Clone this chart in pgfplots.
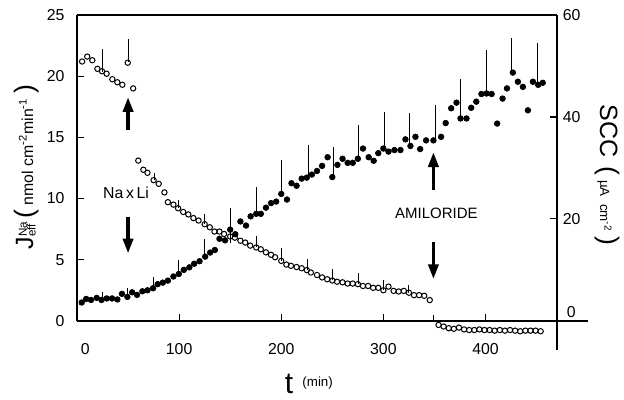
\documentclass[border=0pt]{standalone}
\usepackage{pgfplots}
\pgfplotsset{compat=1.18}
\usepackage{fontspec}
\setmainfont{Liberation Sans}
\usetikzlibrary{arrows.meta}

\pgfplotsset{
  common/.style={
    at={(46.2pt,37.2pt)}, anchor=south west,
    width=288pt, height=193.8pt, scale only axis,
    xmin=0, xmax=470,
    tick align=inside,
    major tick length=4.2pt,
    tick style={line width=0.7pt, black},
    ticklabel style={font=\fontsize{9.5}{10}\selectfont},
    /pgf/number format/assume math mode=true,
    every inner x axis line/.append style={-},
    every outer x axis line/.append style={-},
    every inner y axis line/.append style={-},
    every outer y axis line/.append style={-},
    axis line style={line width=0.8pt},
    clip=false,
  },
}
\tikzset{arr/.style={line width=2.2pt, -{Triangle[length=9pt, width=6pt]}}}

\begin{document}
\begin{tikzpicture}
\path[use as bounding box] (0,0) rectangle (374.4pt,240pt);

% left axis: J_eff (open circles)
\begin{axis}[
  common,
  ymin=-1.4, ymax=25,
  axis x line*=middle, axis y line*=left,
  x axis line style={shorten >=-18.6pt},
  y axis line style={shorten <=10pt},
  xtick={100,200,300,400},
  extra x ticks={8}, extra x tick labels={0},
  extra x tick style={major tick length=0pt},
  ytick={0,5,10,15,20,25},
  xticklabel style={yshift=-10pt},
  yticklabel style={xshift=-4pt},
  xlabel={{\fontsize{18}{18}\selectfont t}\ \ \raisebox{4pt}{\fontsize{8}{8}\selectfont (min)}},
  xlabel style={at={(axis description cs:0.483,-0.142)}, anchor=center},
  ylabel={{\fontsize{15}{15}\selectfont J}\rlap{\textsuperscript{Na}}\textsubscript{eff}\ {\fontsize{16}{16}\selectfont (}\ {\fontsize{9.5}{10}\selectfont nmol cm\textsuperscript{-2}min\textsuperscript{-1}}\ {\fontsize{16}{16}\selectfont )}},
  ylabel style={at={(axis description cs:-0.106,0.529)}, anchor=center},
]
\addplot[only marks, mark=o, mark size=1.6pt, mark options={line width=0.6pt}] coordinates {
  (5,21.2) (10,21.6) (15,21.3) (20,20.6) (24.5,20.4) (29,20.2) (34.6,19.75)
  (39.5,19.5) (44.4,19.3) (49.7,21.1) (55,19.0)
  (60,13.1) (65,12.35) (69,12.1) (75,11.5) (80,11.2) (85.6,10.5) (89,9.7)
  (94.4,9.5) (99,9.2) (104,8.9) (109,8.7) (114,8.4) (119,8.2) (125,7.9)
  (130,7.65) (134.6,7.3) (139.5,7.3) (144,7.1) (150,6.9) (154.6,6.8)
  (160,6.55) (164.7,6.4) (169.6,6.15) (175.5,6.0) (180,5.85) (185,5.6)
  (190,5.4) (194,5.2) (200,4.9) (205,4.6) (209.5,4.5) (215,4.4) (220,4.3)
  (225,4.15) (229,3.95) (235,3.75) (240,3.55) (245,3.4) (250,3.3)
  (254.6,3.2) (260,3.15) (265,3.05) (270,3.05) (275,3.0) (280,2.85)
  (285,2.85) (290,2.7) (295,2.7) (300,2.5) (305,2.8) (310,2.45) (315,2.4)
  (320,2.45) (325,2.3) (330,2.1) (335,2.1) (340,2.05) (345.4,1.7)
  (354,-0.33) (359,-0.46) (364,-0.6) (369,-0.65) (374,-0.55) (379,-0.7)
  (384,-0.75) (389,-0.75) (394,-0.7) (399,-0.75) (404,-0.75) (409,-0.8)
  (414,-0.75) (419,-0.8) (424,-0.75) (429,-0.8) (434,-0.85) (439,-0.8)
  (444,-0.8) (449,-0.8) (454,-0.85)
};
% transient spikes on J_eff
\addplot[black, line width=0.5pt, unbounded coords=jump] coordinates {
  (24.5,20.35) (24.5,22.2) (24.5,nan)
  (50,21.15) (50,23.0) (50,nan)
  (75.5,11.5) (75.5,12.1) (75.5,nan)
  (99.3,9.25) (99.3,9.9) (99.3,nan)
  (124.8,7.95) (124.8,8.7) (124.8,nan)
  (175.5,6.0) (175.5,6.9) (175.5,nan)
  (199.7,4.9) (199.7,5.95) (199.7,nan)
  (225.2,4.15) (225.2,5.05) (225.2,nan)
  (250,3.3) (250,4.25) (250,nan)
  (275.2,3.0) (275.2,3.95) (275.2,nan)
  (300.3,2.5) (300.3,3.3) (300.3,nan)
  (324.5,2.3) (324.5,2.9) (324.5,nan)
  (349,0) (349,0.45)
};
\draw[arr] (axis cs:50,15.6) -- (axis cs:50,18.3);
\draw[arr] (axis cs:50,8.5) -- (axis cs:50,5.5);
\node[font=\fontsize{9.5}{10}\selectfont] at (axis cs:48,10.45) {Na\,x\,Li};
\draw[arr] (axis cs:349,10.7) -- (axis cs:349,13.8);
\draw[arr] (axis cs:349,6.45) -- (axis cs:349,3.4);
\node[font=\fontsize{9}{10}\selectfont] at (axis cs:352,8.75) {AMILORIDE};
\end{axis}

% right axis: SCC (filled circles)
\begin{axis}[
  common,
  ymin=-3.36, ymax=60,
  axis x line*=top, axis y line*=right,
  y axis line style={shorten <=-7pt},
  xtick=\empty,
  ytick={20,40,60},
  extra y ticks={0},
  extra y tick style={major tick length=0pt, yticklabel style={yshift=5.4pt, xshift=2.4pt}},
  ylabel={{\fontsize{15}{15}\selectfont SCC}\ \ {\fontsize{16}{16}\selectfont (}\ {\fontsize{8}{9}\selectfont µA\ \ cm\textsuperscript{-2}}\ {\fontsize{16}{16}\selectfont )}},
  ylabel style={at={(axis description cs:1.104,0.505)}, anchor=center, rotate=180},
]
\addplot[only marks, mark=*, mark size=1.7pt] coordinates {
  (4.6,3.6) (9,4.3) (13.7,4.1) (19.3,4.5) (24,4.1) (29,4.4) (34.3,4.4)
  (39.5,4.2) (44,5.3) (49.3,4.7) (54,5.6) (58.8,5.1) (64,5.8) (69,6.0)
  (74.5,6.4) (79,7.2) (84,7.5) (89,7.9) (94.4,8.7) (99.7,9.2) (104.6,10.0)
  (110,10.5) (114.7,11.2) (120,11.7) (125.5,12.6) (130.4,13.4) (135,13.9)
  (139.5,16.1) (145,15.8) (150,17.9) (155,17.0) (160,19.5) (165.5,18.7)
  (170,20.5) (175.5,21.0) (180,21.0) (185,22.2) (190,23.1) (195,23.4)
  (200,24.9) (205.6,23.8) (210,27.0) (215,26.5) (220,27.9) (225,28.1)
  (230,28.7) (235,29.4) (240,30.4) (245.4,32.1) (250,28.2) (255,30.6)
  (260,31.8) (265,31.0) (270,31.0) (275,31.8) (280,33.8) (285.6,32.1)
  (290.5,31.4) (295,32.9) (300,33.8) (305,33.2) (310.8,33.5) (316.7,33.5)
  (321.6,35.6) (326.5,34.3) (331.4,36.1) (336,33.7) (341.8,35.4) (349,35.4)
  (356.5,36.1) (361,38.8) (366.4,41.7) (371.6,42.8) (375.5,39.7)
  (381.4,39.7) (386,41.8) (391,43.0) (396,44.5) (401,44.6) (406,44.5)
  (411.4,38.7) (416.7,43.6) (421,45.6) (426.8,48.7) (431.7,46.9)
  (436.6,45.9) (441.5,41.3) (446.4,46.9) (451.6,46.3) (456,46.7)
};
% transient spikes on SCC
\addplot[black, line width=0.5pt, unbounded coords=jump] coordinates {
  (24.8,4.3) (24.8,5.7) (24.8,nan)
  (49.3,4.7) (49.3,6.4) (49.3,nan)
  (74.8,6.4) (74.8,8.7) (74.8,nan)
  (99.7,9.2) (99.7,12.0) (99.7,nan)
  (125.2,12.6) (125.2,16.1) (125.2,nan)
  (150,15.2) (150,22.1) (150,nan)
  (175.5,21.0) (175.5,26.2) (175.5,nan)
  (199.7,24.9) (199.7,31.6) (199.7,nan)
  (226.2,28.1) (226.2,34.4) (226.2,nan)
  (250.7,28.2) (250.7,34.1) (250.7,nan)
  (275.8,31.8) (275.8,38.4) (275.8,nan)
  (301,33.8) (301,41.0) (301,nan)
  (325.8,34.3) (325.8,40.7) (325.8,nan)
  (351,35.4) (351,42.3) (351,nan)
  (375.5,39.7) (375.5,47.4) (375.5,nan)
  (401,44.6) (401,53.1) (401,nan)
  (425.8,48.7) (425.8,55.5) (425.8,nan)
  (451,46.5) (451,54.6)
};
\end{axis}
\end{tikzpicture}
\end{document}
